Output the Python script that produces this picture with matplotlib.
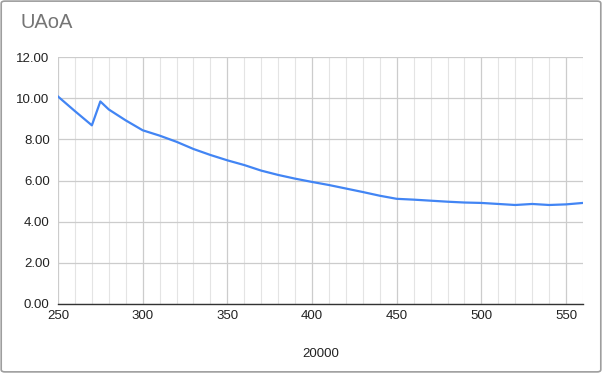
#!/usr/bin/env python3

import matplotlib.pyplot as plt
from matplotlib.patches import FancyBboxPatch
from matplotlib.ticker import MultipleLocator

plt.rcParams['font.family'] = ['Liberation Sans', 'DejaVu Sans']

# values
x_vals = [250, 260, 270, 275, 280, 290, 300, 310, 320, 330, 340, 350, 360, 370,
          380, 390, 400, 410, 420, 430, 440, 450, 460, 470, 480, 490, 500, 510,
          520, 530, 540, 550, 560]
uaoa = [10.08, 9.37, 8.68, 9.84, 9.45, 8.92, 8.44, 8.18, 7.88, 7.53, 7.24, 6.98,
        6.75, 6.48, 6.27, 6.09, 5.93, 5.78, 5.61, 5.44, 5.26, 5.11, 5.07, 5.02,
        4.97, 4.93, 4.91, 4.86, 4.81, 4.86, 4.81, 4.84, 4.91]
y_ticks = [0, 2, 4, 6, 8, 10, 12]

fig = plt.figure(figsize=(6.02, 3.73), dpi=100)
ax = fig.add_axes([58 / 602, 1 - 304 / 373, 525 / 602, 247 / 373])

# light outer border like the sheets chart frame
fig.patches.append(FancyBboxPatch((0.002, 0.003), 0.996, 0.994, boxstyle='round,pad=0,rounding_size=0.006',
                                  transform=fig.transFigure, facecolor='none',
                                  edgecolor='#9e9e9e', linewidth=1.2))

ax.plot(x_vals, uaoa, color='#4285f4', linewidth=1.6, zorder=3)

ax.set_xlim(250, 560)
ax.set_ylim(0, 12)
ax.set_yticks(y_ticks)
ax.set_yticklabels([f'{t:.2f}' for t in y_ticks])
ax.xaxis.set_major_locator(MultipleLocator(50))
ax.xaxis.set_minor_locator(MultipleLocator(10))

ax.grid(which='major', color='#cccccc', linewidth=0.9)
ax.grid(which='minor', axis='x', color='#e4e4e4', linewidth=0.8)
ax.set_axisbelow(True)

for side in ['top', 'right', 'left']:
    ax.spines[side].set_visible(False)
ax.spines['bottom'].set_color('#333333')
ax.spines['bottom'].set_linewidth(1.0)

ax.tick_params(which='both', length=0, labelsize=9.5, colors='#222222')
ax.tick_params(axis='x', pad=4)
ax.tick_params(axis='y', pad=6)

ax.set_xlabel('20000', fontsize=9.5, color='#222222', labelpad=19)
fig.text(20 / 602, 1 - 22 / 373, 'UAoA', fontsize=14.5, color='#757575', va='center', ha='left')

plt.savefig('out.png', dpi=100)
